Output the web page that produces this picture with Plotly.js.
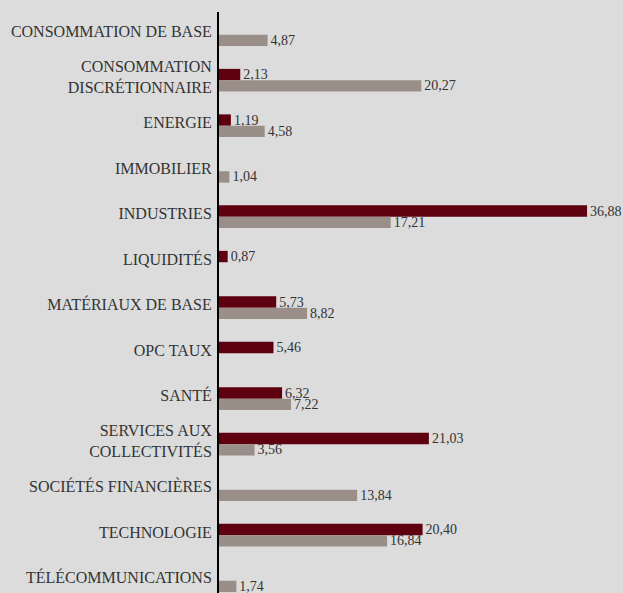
<!DOCTYPE html>
<html><head><meta charset="utf-8">
<script src="https://cdn.plot.ly/plotly-3.0.1.min.js"></script>
<style>html,body{margin:0;padding:0;background:#dcdcdc;}#chart{width:623px;height:593px;}</style>
</head><body><div id="chart"></div>
<script>
const categories = [
  "CONSOMMATION DE BASE",
  "CONSOMMATION<br>DISCRÉTIONNAIRE",
  "ENERGIE",
  "IMMOBILIER",
  "INDUSTRIES",
  "LIQUIDITÉS",
  "MATÉRIAUX DE BASE",
  "OPC TAUX",
  "SANTÉ",
  "SERVICES AUX<br>COLLECTIVITÉS",
  "SOCIÉTÉS FINANCIÈRES",
  "TECHNOLOGIE",
  "TÉLÉCOMMUNICATIONS"
];
const seriesRed = [null, 2.13, 1.19, null, 36.88, 0.87, 5.73, 5.46, 6.32, 21.03, null, 20.40, null];
const seriesGrey = [4.87, 20.27, 4.58, 1.04, 17.21, null, 8.82, null, 7.22, 3.56, 13.84, 16.84, 1.74];

const FONT = "'Liberation Serif', 'Times New Roman', serif";
const common = {
  type: 'bar', orientation: 'h', y: categories,
  texttemplate: '%{x:.2f}', textposition: 'outside', cliponaxis: false,
  constraintext: 'none',
  textfont: {family: FONT, size: 14, color: '#333333'},
  hoverinfo: 'skip'
};
const data = [
  Object.assign({}, common, {x: seriesRed, name: 'Fonds', marker: {color: '#5e0010'}}),
  Object.assign({}, common, {x: seriesGrey, name: 'Indice', marker: {color: '#9a8e89'}})
];
const layout = {
  width: 623, height: 593,
  margin: {l: 219, r: 0, t: 12, b: 0, pad: 0},
  paper_bgcolor: '#dcdcdc', plot_bgcolor: '#dcdcdc',
  separators: ', ',
  showlegend: false,
  barmode: 'group', bargap: 0.5, bargroupgap: 0,
  font: {family: FONT, color: '#333333'},
  xaxis: {range: [0, 40.48], autorange: false, showgrid: false, zeroline: false, showline: false, showticklabels: false, ticks: ''},
  yaxis: {
    type: 'category', autorange: false, range: [12.27, -0.5],
    showline: true, linecolor: '#000000', linewidth: 2, showgrid: false, zeroline: false,
    ticks: '', ticklabelstandoff: 2, ticklabelshift: 3,
    tickfont: {family: FONT, size: 16, color: '#333333'}
  }
};
Plotly.newPlot('chart', data, layout, {displayModeBar: false, staticPlot: true});
</script></body></html>
